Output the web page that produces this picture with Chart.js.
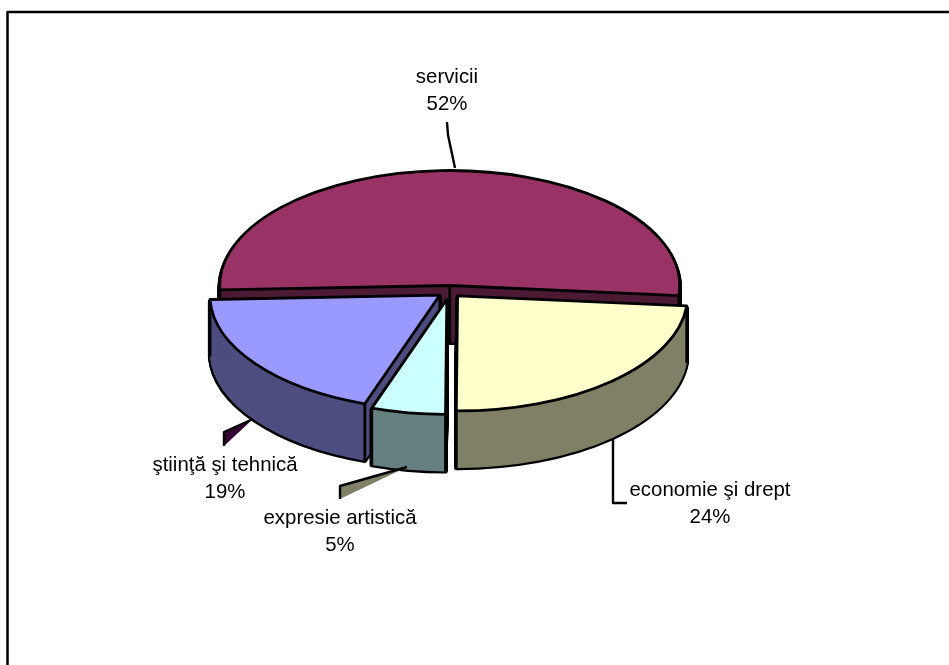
<!DOCTYPE html>
<html>
<head>
<meta charset="utf-8">
<script src="https://cdn.jsdelivr.net/npm/chart.js@4/dist/chart.umd.min.js"></script>
<style>
  html, body { margin: 0; padding: 0; background: #fff; overflow: hidden; }
  #pie { display: block; }
</style>
</head>
<body>
<canvas id="pie" width="949" height="665"></canvas>
<script>
const categories = ["economie şi drept", "expresie artistică", "ştiinţă şi tehnică", "servicii"];
// the labels round them to 24, 5, 19, 52
const shares = [23.7, 5.2, 19.1, 52];

const topColors = ["#FFFFCC", "#CCFFFF", "#9999FF", "#993366"];
const wallColors = ["#808066", "#668080", "#4D4D80", "#4D1A33"];
const explode = [12, 16, 12, 12];

// 3D look: the library's arcs are flattened, pulled apart and extruded downwards
const SQUASH = 0.5;
const DEPTH = 57;
const FONT = '20.4px "Liberation Sans", Arial, sans-serif';

// label centre and first baseline, same order as categories
const labelSpots = [[710, 496], [340, 524], [225, 471], [447, 83]];

const wedgeCentre = (arc, i) => {
  const mid = (arc.startAngle + arc.endAngle) / 2;
  return {
    cx: arc.x + Math.cos(mid) * explode[i],
    cy: arc.y + Math.sin(mid) * explode[i] * SQUASH,
  };
};

const wedgePath = (ctx, arc, i, drop) => {
  const { cx, cy } = wedgeCentre(arc, i);
  const r = arc.outerRadius;
  ctx.beginPath();
  ctx.moveTo(cx, cy + drop);
  ctx.ellipse(cx, cy + drop, r, r * SQUASH, 0, arc.startAngle, arc.endAngle);
  ctx.closePath();
};

const backToFront = (arcs) =>
  arcs
    .map((arc, i) => ({ arc, i }))
    .sort((a, b) => {
      const midA = (a.arc.startAngle + a.arc.endAngle) / 2;
      const midB = (b.arc.startAngle + b.arc.endAngle) / 2;
      return Math.sin(midA) - Math.sin(midB);
    });

const drawWalls = (ctx, arc, i) => {
  // black silhouette first, the fill then leaves only its outer edge
  ctx.strokeStyle = "#000";
  ctx.lineWidth = 4.4;
  ctx.lineJoin = "round";
  for (let d = 2; d <= DEPTH; d++) {
    wedgePath(ctx, arc, i, d);
    ctx.stroke();
  }
  ctx.fillStyle = wallColors[i];
  for (let d = 0; d <= DEPTH; d++) {
    wedgePath(ctx, arc, i, d);
    ctx.fill();
  }
  // vertical edges at the apex and the two rim corners
  const { cx, cy } = wedgeCentre(arc, i);
  const r = arc.outerRadius;
  ctx.lineWidth = 2.8;
  [
    [cx, cy],
    [cx + Math.cos(arc.startAngle) * r, cy + Math.sin(arc.startAngle) * r * SQUASH],
    [cx + Math.cos(arc.endAngle) * r, cy + Math.sin(arc.endAngle) * r * SQUASH],
  ].forEach(([x, y]) => {
    ctx.beginPath();
    ctx.moveTo(x, y);
    ctx.lineTo(x, y + DEPTH);
    ctx.stroke();
  });
};

const polyline = (ctx, pts) => {
  ctx.beginPath();
  pts.forEach(([x, y], i) => (i ? ctx.lineTo(x, y) : ctx.moveTo(x, y)));
};

const pie3d = {
  id: "pie3d",
  beforeDatasetDraw(chart, args) {
    const ctx = chart.ctx;
    const arcs = chart.getDatasetMeta(args.index).data;
    const order = backToFront(arcs);
    order.forEach(({ arc, i }) => drawWalls(ctx, arc, i));

    // the chart's own arcs become the flattened top faces
    arcs.forEach((arc, i) => {
      const { cx, cy } = wedgeCentre(arc, i);
      ctx.save();
      ctx.translate(cx, cy);
      ctx.scale(1, SQUASH);
      ctx.translate(-arc.x, -arc.y);
      arc.draw(ctx);
      ctx.restore();
    });

    ctx.strokeStyle = "#000";
    ctx.lineWidth = 2.8;
    ctx.lineJoin = "round";
    arcs.forEach((arc, i) => {
      wedgePath(ctx, arc, i, 0);
      ctx.stroke();
    });
    return false;
  },
  afterDraw(chart) {
    const ctx = chart.ctx;
    ctx.save();

    // frame, open at the bottom and right like the reference
    ctx.strokeStyle = "#000";
    ctx.lineWidth = 2.5;
    polyline(ctx, [[7.5, 665], [7.5, 12], [949, 12]]);
    ctx.stroke();

    // leader lines
    ctx.lineWidth = 2.4;
    polyline(ctx, [[447, 122], [448, 135], [455, 168]]);
    ctx.stroke();
    polyline(ctx, [[613, 439], [613, 503], [627, 503]]);
    ctx.stroke();

    // the two odd filled leaders
    ctx.fillStyle = "#330033";
    polyline(ctx, [[253, 419], [224, 432], [224, 446]]);
    ctx.fill();
    ctx.stroke();
    ctx.fillStyle = "#808066";
    polyline(ctx, [[407, 467], [340, 486], [340, 499]]);
    ctx.fill();
    ctx.stroke();

    ctx.fillStyle = "#000";
    ctx.font = FONT;
    ctx.textAlign = "center";
    ctx.textBaseline = "alphabetic";
    categories.forEach((name, i) => {
      const [x, y] = labelSpots[i];
      ctx.fillText(name, x, y);
      ctx.fillText(Math.round(shares[i]) + "%", x, y + 27);
    });
    ctx.restore();
  },
};

new Chart(document.getElementById("pie"), {
  type: "pie",
  data: {
    labels: categories,
    datasets: [
      {
        data: shares,
        backgroundColor: topColors,
        borderWidth: 0,
      },
    ],
  },
  options: {
    responsive: false,
    animation: false,
    events: [],
    radius: 230,
    rotation: 95,
    layout: { padding: { left: 0, right: 50, top: 0, bottom: 82 } },
    plugins: {
      legend: { display: false },
      tooltip: { enabled: false },
    },
  },
  plugins: [pie3d],
});
</script>
</body>
</html>
